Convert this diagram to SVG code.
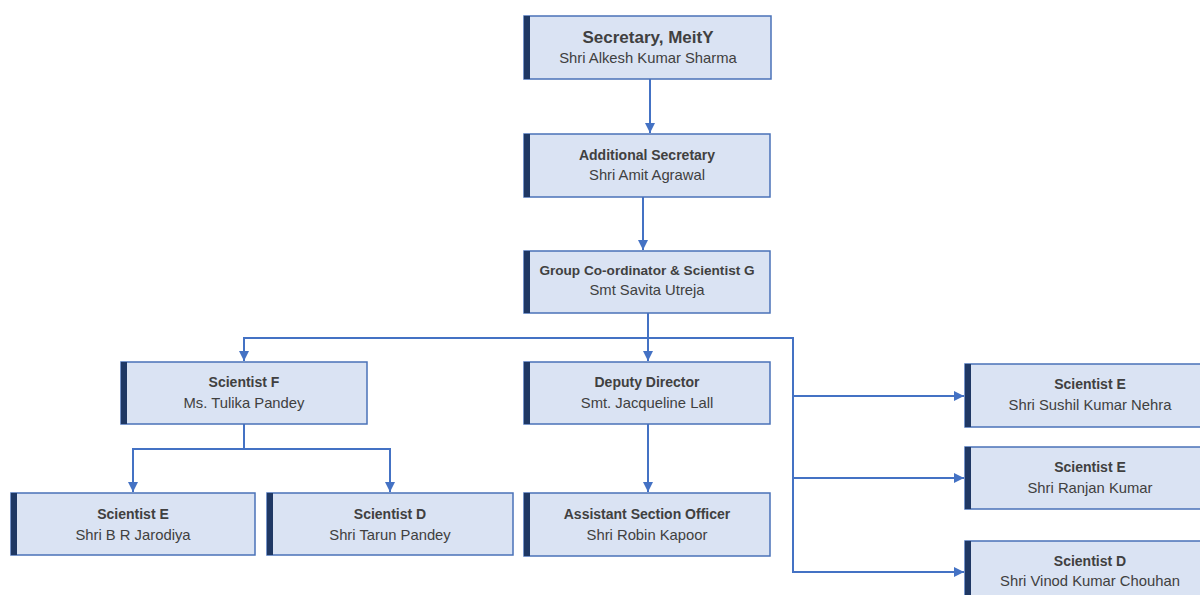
<svg xmlns="http://www.w3.org/2000/svg" width="1200" height="595" viewBox="0 0 1200 595">
<style>
.box{fill:#DAE3F3;stroke:#4A72B8;stroke-width:1.5}
.bar{fill:#1F3864}
.t{font-family:"Liberation Sans",Arial,sans-serif;font-size:14.8px;fill:#404040;text-anchor:middle}
.b{font-weight:bold;font-size:14px}
.c{fill:none;stroke:#4472C4;stroke-width:2}
</style>
<defs>
<marker id="ah" markerUnits="userSpaceOnUse" markerWidth="12" markerHeight="12" refX="10" refY="6" orient="auto">
<path d="M0,1 L10,6 L0,11 Z" fill="#4472C4"/>
</marker>
</defs>
<rect width="1200" height="595" fill="#FFFFFF"/>
<g id="connectors">
<path class="c" d="M650,79 V133" marker-end="url(#ah)"/>
<path class="c" d="M643,197 V250" marker-end="url(#ah)"/>
<path class="c" d="M648,313 V361" marker-end="url(#ah)"/>
<path class="c" d="M244,338 H793 V572"/>
<path class="c" d="M244,337 V361" marker-end="url(#ah)"/>
<path class="c" d="M793,396 H964" marker-end="url(#ah)"/>
<path class="c" d="M793,478 H964" marker-end="url(#ah)"/>
<path class="c" d="M792,572 H964" marker-end="url(#ah)"/>
<path class="c" d="M244,424 V449"/>
<path class="c" d="M133,449 H390"/>
<path class="c" d="M133,448 V492" marker-end="url(#ah)"/>
<path class="c" d="M390,448 V492" marker-end="url(#ah)"/>
<path class="c" d="M648,424 V492" marker-end="url(#ah)"/>
</g>
<g id="n-secretary">
<rect class="box" x="524" y="16" width="247" height="63"/><rect class="bar" x="524" y="16" width="6" height="63"/>
<text class="t b" x="648" y="43" style="font-size:17px">Secretary, MeitY</text>
<text class="t" x="648" y="63">Shri Alkesh Kumar Sharma</text>
</g>
<g id="n-addl">
<rect class="box" x="524" y="134" width="246" height="63"/><rect class="bar" x="524" y="134" width="6" height="63"/>
<text class="t b" x="647" y="160">Additional Secretary</text>
<text class="t" x="647" y="180">Shri Amit Agrawal</text>
</g>
<g id="n-gc">
<rect class="box" x="524" y="251" width="246" height="62"/><rect class="bar" x="524" y="251" width="6" height="62"/>
<text class="t b" x="647" y="275" style="font-size:13.6px">Group Co-ordinator &amp; Scientist G</text>
<text class="t" x="647" y="295">Smt Savita Utreja</text>
</g>
<g id="n-scif">
<rect class="box" x="121" y="362" width="246" height="62"/><rect class="bar" x="121" y="362" width="6" height="62"/>
<text class="t b" x="244" y="387">Scientist F</text>
<text class="t" x="244" y="408">Ms. Tulika Pandey</text>
</g>
<g id="n-dd">
<rect class="box" x="524" y="362" width="246" height="62"/><rect class="bar" x="524" y="362" width="6" height="62"/>
<text class="t b" x="647" y="387">Deputy Director</text>
<text class="t" x="647" y="408">Smt. Jacqueline Lall</text>
</g>
<g id="n-jarodiya">
<rect class="box" x="11" y="493" width="244" height="62"/><rect class="bar" x="11" y="493" width="6" height="62"/>
<text class="t b" x="133" y="519">Scientist E</text>
<text class="t" x="133" y="540">Shri B R Jarodiya</text>
</g>
<g id="n-tarun">
<rect class="box" x="267" y="493" width="246" height="62"/><rect class="bar" x="267" y="493" width="6" height="62"/>
<text class="t b" x="390" y="519">Scientist D</text>
<text class="t" x="390" y="540">Shri Tarun Pandey</text>
</g>
<g id="n-aso">
<rect class="box" x="524" y="493" width="246" height="63"/><rect class="bar" x="524" y="493" width="6" height="63"/>
<text class="t b" x="647" y="519">Assistant Section Officer</text>
<text class="t" x="647" y="540">Shri Robin Kapoor</text>
</g>
<g id="n-nehra">
<rect class="box" x="965" y="364" width="248" height="63"/><rect class="bar" x="965" y="364" width="6" height="63"/>
<text class="t b" x="1090" y="389">Scientist E</text>
<text class="t" x="1090" y="410">Shri Sushil Kumar Nehra</text>
</g>
<g id="n-ranjan">
<rect class="box" x="965" y="447" width="248" height="62"/><rect class="bar" x="965" y="447" width="6" height="62"/>
<text class="t b" x="1090" y="472">Scientist E</text>
<text class="t" x="1090" y="493">Shri Ranjan Kumar</text>
</g>
<g id="n-chouhan">
<rect class="box" x="965" y="541" width="248" height="62"/><rect class="bar" x="965" y="541" width="6" height="62"/>
<text class="t b" x="1090" y="566">Scientist D</text>
<text class="t" x="1090" y="586">Shri Vinod Kumar Chouhan</text>
</g>
</svg>
